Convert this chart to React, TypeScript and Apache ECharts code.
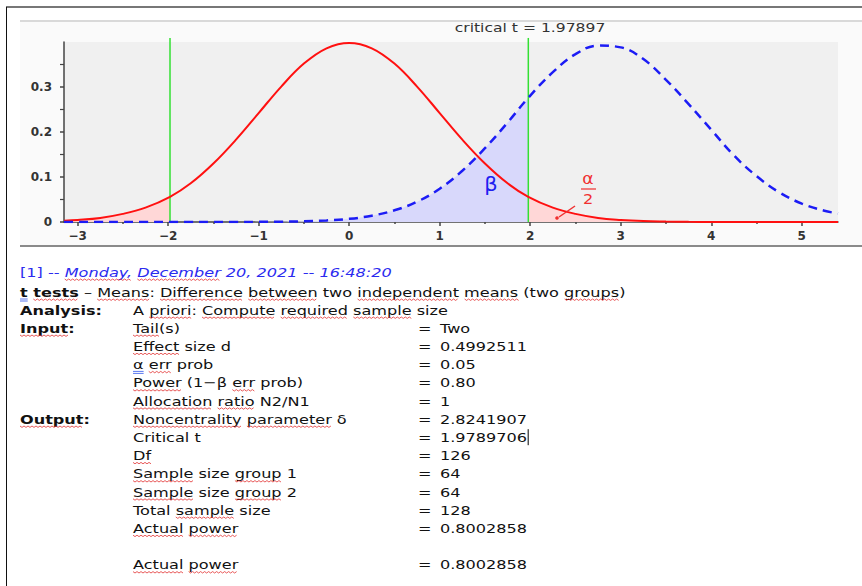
import React, { useEffect, useRef } from 'react';
import * as echarts from 'echarts';

// ---- chart data ----
const tGrid = [-3.15, -3, -2.75, -2.5, -2.25, -1.979, -1.75, -1.5, -1.25, -1, -0.75, -0.5, -0.25, 0, 0.25, 0.5, 0.75, 1, 1.25, 1.5, 1.75, 1.979, 2.25, 2.5, 2.75, 3, 3.25, 3.5, 3.75, 4, 4.25, 4.5, 4.75, 5, 5.25, 5.4];
const h0Density = [0.003, 0.0045, 0.009, 0.018, 0.032, 0.056, 0.086, 0.13, 0.183, 0.242, 0.301, 0.352, 0.386, 0.398, 0.386, 0.352, 0.301, 0.242, 0.183, 0.13, 0.086, 0.056, 0.032, 0.018, 0.009, 0.0045, 0.002, 0.001, 0.0004, 0.0002, 0.0001, 0, 0, 0, 0, 0];
const h1Density = [0, 0, 0, 0, 0, 0, 0, 0.0001, 0.0001, 0.0003, 0.0007, 0.0016, 0.0035, 0.007, 0.014, 0.026, 0.045, 0.074, 0.114, 0.164, 0.221, 0.276, 0.333, 0.373, 0.392, 0.388, 0.362, 0.316, 0.262, 0.205, 0.148, 0.102, 0.066, 0.041, 0.025, 0.019];
const criticalT = 1.97897;
const xTickValues = [-3, -2, -1, 0, 1, 2, 3, 4, 5];
const xMinorTickValues = [-2.5, -1.5, -0.5, 0.5, 1.5, 2.5, 3.5, 4.5];
const yTickValues = [0, 0.1, 0.2, 0.3];
const yMinorTickValues = [0.05, 0.15, 0.25, 0.35];

// ---- report text ----
const reportIndex = '[1] -- ';
const reportDate = 'Monday, December 20, 2021 -- 16:48:20';
const testFamily = 't tests';
const testName = ' – Means: Difference between two independent means (two groups)';
const analysisLabel = 'Analysis:';
const analysisText = 'A priori: Compute required sample size';
const sectionLabels = ['Input:', '', '', '', '', 'Output:', '', '', '', '', '', '', '', ''];
const paramLabels = ['Tail(s)', 'Effect size d', 'α err prob', 'Power (1−β err prob)', 'Allocation ratio N2/N1', 'Noncentrality parameter δ', 'Critical t', 'Df', 'Sample size group 1', 'Sample size group 2', 'Total sample size', 'Actual power', '', 'Actual power'];
const paramValues = ['Two', '0.4992511', '0.05', '0.80', '1', '2.8241907', '1.9789706', '126', '64', '64', '128', '0.8002858', '', '0.8002858'];
const paramSquiggles = [['Tail'], ['Effect'], ['err'], ['Power', 'err'], ['Allocation', 'ratio'], ['Noncentrality', 'parameter'], [], ['Df'], ['Sample', 'group'], ['Sample', 'group'], ['sample'], ['Actual', 'power'], [], ['Actual', 'power']];

const FONT = '"DejaVu Sans"';
const FS = 13;
const SX = 1.24;

export default function App() {
  const ref = useRef<HTMLDivElement>(null);
  useEffect(() => {
    if (!ref.current) return;
    const chart = echarts.init(ref.current, undefined, { renderer: 'svg' });
    const ctx = document.createElement('canvas').getContext('2d')!;
    const tw = (s: string, bold = false, italic = false) => {
      ctx.font = `${italic ? 'italic ' : ''}${bold ? 'bold ' : ''}${FS}px ${FONT}`;
      return ctx.measureText(s).width * SX;
    };
    const els: any[] = [];
    const txt = (x: number, y: number, text: string, opts: any = {}) => {
      els.push({
        type: 'text', x, y, scaleX: SX, z: 10,
        style: {
          text, fill: opts.fill || '#111', font: `${opts.italic ? 'italic ' : ''}${opts.bold ? 'bold ' : ''}${FS}px ${FONT}`,
          textAlign: 'left', textVerticalAlign: 'middle',
        },
      });
    };
    const squiggle = (x0: number, w: number, y: number, color = '#e23030') => {
      const pts: number[][] = [];
      let i = 0;
      for (let x = x0; x <= x0 + w; x += 2, i++) pts.push([x, y + (i % 2 ? 1.4 : 0)]);
      els.push({ type: 'polyline', z: 10, shape: { points: pts }, style: { stroke: color, lineWidth: 0.8, fill: null }, silent: true });
    };
    const underlineWords = (x0: number, y: number, s: string, words: string[], bold = false, italic = false) => {
      let from = 0;
      words.forEach((w) => {
        const idx = s.indexOf(w, from);
        if (idx < 0) return;
        from = idx + w.length;
        squiggle(x0 + tw(s.slice(0, idx), bold, italic), tw(w, bold, italic), y + 7);
      });
    };
    const blueDouble = (x0: number, w: number, y: number) => {
      els.push({ type: 'line', z: 10, shape: { x1: x0, y1: y + 7, x2: x0 + w, y2: y + 7 }, style: { stroke: '#5a78f0', lineWidth: 1 } });
      els.push({ type: 'line', z: 10, shape: { x1: x0, y1: y + 9, x2: x0 + w, y2: y + 9 }, style: { stroke: '#5a78f0', lineWidth: 1 } });
    };

    // frame / panel
    els.push({ type: 'rect', z: -10, shape: { x: 20, y: 20, width: 842, height: 226 }, style: { fill: '#fafafa' } });
    els.push({ type: 'line', z: -9, shape: { x1: 20, y1: 21, x2: 862, y2: 21 }, style: { stroke: '#d9d9d9', lineWidth: 2 } });
    els.push({ type: 'line', z: -9, shape: { x1: 20, y1: 246, x2: 862, y2: 246 }, style: { stroke: '#8a8a8a', lineWidth: 2 } });
    els.push({ type: 'line', z: -9, shape: { x1: 6, y1: 7, x2: 862, y2: 7 }, style: { stroke: '#777', lineWidth: 2 } });
    els.push({ type: 'line', z: -9, shape: { x1: 6.5, y1: 7, x2: 6.5, y2: 586 }, style: { stroke: '#111', lineWidth: 1 } });

    // chart annotations
    els.push({ type: 'text', x: 530, y: 28, scaleX: 1.3, z: 10, style: { text: `critical t = ${criticalT}`, fill: '#333', font: `12px ${FONT}`, textAlign: 'center', textVerticalAlign: 'middle' } });
    els.push({ type: 'text', x: 491, y: 184, scaleX: 1.05, z: 10, style: { text: 'β', fill: '#2020f0', font: `20px ${FONT}`, textAlign: 'center', textVerticalAlign: 'middle' } });
    els.push({ type: 'text', x: 588, y: 179, scaleX: 1.15, z: 10, style: { text: 'α', fill: '#f03030', font: `15px ${FONT}`, textAlign: 'center', textVerticalAlign: 'middle' } });
    els.push({ type: 'line', z: 10, shape: { x1: 581, y1: 189, x2: 596, y2: 189 }, style: { stroke: '#f03030', lineWidth: 1.2 } });
    els.push({ type: 'text', x: 588, y: 199, scaleX: 1.15, z: 10, style: { text: '2', fill: '#f03030', font: `14px ${FONT}`, textAlign: 'center', textVerticalAlign: 'middle' } });
    els.push({ type: 'line', z: 10, shape: { x1: 575, y1: 206, x2: 559, y2: 217 }, style: { stroke: '#f03030', lineWidth: 1.5 } });
    els.push({ type: 'circle', z: 10, shape: { cx: 557, cy: 218, r: 1.8 }, style: { fill: '#f03030' } });

    // report text
    const yDate = 272, yTitle = 292, yAnalysis = 310, yRow0 = 328, rowStep = 18.2;
    txt(20, yDate, reportIndex, { fill: '#2b2bef' });
    const xDate = 20 + tw(reportIndex);
    txt(xDate, yDate, reportDate, { fill: '#2b2bef', italic: true });
    underlineWords(xDate, yDate, reportDate, ['Monday,', 'December'], false, true);

    txt(20, yTitle, testFamily, { bold: true });
    blueDouble(20, tw('t', true), yTitle);
    underlineWords(20, yTitle, testFamily, ['tests'], true);
    const xName = 20 + tw(testFamily, true);
    txt(xName, yTitle, testName);
    underlineWords(xName, yTitle, testName, ['Means', 'Difference', 'between', 'independent', 'means', 'groups']);

    txt(20, yAnalysis, analysisLabel, { bold: true });
    txt(133, yAnalysis, analysisText);
    underlineWords(133, yAnalysis, analysisText, ['priori', 'Compute', 'required', 'sample']);

    paramLabels.forEach((lab, i) => {
      const y = yRow0 + rowStep * i;
      const sec = sectionLabels[i];
      if (sec) {
        txt(20, y, sec, { bold: true });
        underlineWords(20, y, sec, [sec.replace(':', '')], true);
      }
      if (!lab) return;
      txt(133, y, lab);
      underlineWords(133, y, lab, paramSquiggles[i]);
      if (lab.startsWith('α')) blueDouble(133, tw('α'), y);
      txt(418, y, '=');
      txt(440, y, paramValues[i]);
    });
    // text cursor after critical t value
    const yCrit = yRow0 + rowStep * 6;
    const xCur = 440 + tw(paramValues[6]) + 1;
    els.push({ type: 'line', z: 10, shape: { x1: xCur, y1: yCrit - 8, x2: xCur, y2: yCrit + 8 }, style: { stroke: '#000', lineWidth: 1 } });

    const h0 = tGrid.map((x, i) => [x, h0Density[i]]);
    const h1 = tGrid.map((x, i) => [x, h1Density[i]]);
    const axisColor = '#444';
    const labelStyle = { color: '#333', fontSize: 12, fontWeight: 'bold', fontFamily: 'DejaVu Sans' };

    chart.setOption({
      animation: false,
      backgroundColor: '#ffffff',
      grid: { left: 64, right: 24, top: 42, bottom: 364, show: true, backgroundColor: '#f0f0f0', borderWidth: 0 },
      xAxis: [
        {
          type: 'value', min: -3.15, max: 5.4, position: 'bottom',
          axisLine: { show: true, onZero: false, lineStyle: { color: axisColor, width: 1.5 } },
          axisTick: { show: true, customValues: xTickValues, length: 4, lineStyle: { color: axisColor, width: 1.5 } },
          axisLabel: { customValues: xTickValues, formatter: (v: number) => String(v).replace('-', '−'), margin: 8, ...labelStyle },
          splitLine: { show: false },
        },
        {
          type: 'value', min: -3.15, max: 5.4, position: 'bottom', offset: 0,
          axisLine: { show: false, onZero: false },
          axisTick: { show: true, customValues: xMinorTickValues, length: 2, lineStyle: { color: axisColor, width: 1.5 } },
          axisLabel: { show: false },
          splitLine: { show: false },
        },
      ],
      yAxis: [
        {
          type: 'value', min: 0, max: 0.4, position: 'left',
          axisLine: { show: true, onZero: false, lineStyle: { color: axisColor, width: 1.5 } },
          axisTick: { show: true, customValues: yTickValues, length: 4, lineStyle: { color: axisColor, width: 1.5 } },
          axisLabel: { customValues: yTickValues, formatter: (v: number) => (v === 0 ? '0' : v.toFixed(1)), margin: 12, ...labelStyle },
          splitLine: { show: false },
        },
        {
          type: 'value', min: 0, max: 0.4, position: 'left', offset: 0,
          axisLine: { show: false, onZero: false },
          axisTick: { show: true, customValues: yMinorTickValues, length: 4, lineStyle: { color: axisColor, width: 1.2 } },
          axisLabel: { show: false },
          splitLine: { show: false },
        },
      ],
      graphic: els,
      series: [
        {
          name: 'beta', type: 'line', data: h1.filter((p) => p[0] <= 1.98), smooth: 0.4, showSymbol: false,
          lineStyle: { width: 0 }, areaStyle: { color: '#d8d8fb', opacity: 1 }, z: 1, silent: true,
        },
        {
          name: 'alphaLeft', type: 'line', data: h0.filter((p) => p[0] <= -1.978), smooth: 0.4, showSymbol: false,
          lineStyle: { width: 0 }, areaStyle: { color: '#ffd7d7', opacity: 1 }, z: 1, silent: true,
        },
        {
          name: 'alphaRight', type: 'line', data: h0.filter((p) => p[0] >= 1.978), smooth: 0.4, showSymbol: false,
          lineStyle: { width: 0 }, areaStyle: { color: '#ffd7d7', opacity: 1 }, z: 1, silent: true,
        },
        {
          name: 'critLow', type: 'line', data: [[-criticalT, 0], [-criticalT, 0.409]], showSymbol: false, clip: false,
          lineStyle: { color: '#33e033', width: 1.5 }, z: 2, silent: true,
        },
        {
          name: 'critHigh', type: 'line', data: [[criticalT, 0], [criticalT, 0.409]], showSymbol: false, clip: false,
          lineStyle: { color: '#33e033', width: 1.5 }, z: 2, silent: true,
        },
        {
          name: 'H0', type: 'line', data: h0, smooth: 0.4, showSymbol: false,
          lineStyle: { color: '#ff1010', width: 2 }, z: 3, silent: true,
        },
        {
          name: 'H1', type: 'line', data: h1, smooth: 0.4, showSymbol: false,
          lineStyle: { color: '#1c1cf5', width: 2.5, type: [9, 6] }, z: 4, silent: true,
        },
      ],
    });
    return () => chart.dispose();
  }, []);
  return <div ref={ref} style={{ position: 'absolute', left: 0, top: 0, width: 862, height: 586, background: '#fff' }} />;
}
